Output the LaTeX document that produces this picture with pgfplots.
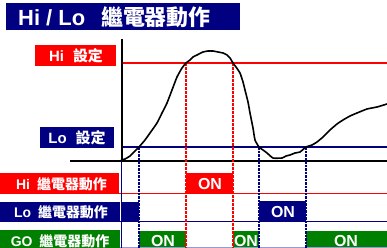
\documentclass[border=0pt]{standalone}
\usepackage{fontspec}
\setmainfont{Liberation Sans}
\newfontfamily\cjk{Noto Sans CJK TC}
\usepackage{pgfplots}
\pgfplotsset{compat=1.18}
\definecolor{hired}{RGB}{255,0,0}
\definecolor{navy}{RGB}{0,0,128}
\definecolor{gogreen}{RGB}{0,128,0}
\definecolor{lav}{RGB}{150,150,225}
\tikzset{lbl/.style={text=white, inner sep=0pt},
  on/.style={text=white, inner sep=0pt, font=\fontsize{16}{16}\selectfont\bfseries},
  bot/.style={anchor=base, text depth=0pt}}
\begin{document}
\begin{tikzpicture}
\begin{axis}[
  scale only axis, width=387bp, height=248bp,
  xmin=0, xmax=387, ymin=0, ymax=248, y dir=reverse,
  hide axis, clip=false,
]
\addplot[draw=none] coordinates {(0,0) (387,248)};
% title bar
\addplot[fill=navy, draw=none] coordinates {(6,3) (240,3) (240,30) (6,30)} -- cycle;
\node[lbl, anchor=west, font=\fontsize{22}{22}\selectfont\bfseries] at (axis cs:18,17) {Hi / Lo\hspace{16bp}{\cjk 繼電器動作}};
% label boxes
\addplot[fill=hired, draw=none] coordinates {(35,45) (116,45) (116,66) (35,66)} -- cycle;
\node[lbl, font=\fontsize{15}{15}\selectfont\bfseries] at (axis cs:76,56) {Hi\hspace{9bp}{\cjk 設定}};
\addplot[fill=navy, draw=none] coordinates {(40,127) (114,127) (114,148) (40,148)} -- cycle;
\node[lbl, font=\fontsize{15}{15}\selectfont\bfseries] at (axis cs:77,138) {Lo\hspace{9bp}{\cjk 設定}};
% band label boxes
\addplot[fill=hired, draw=none] coordinates {(0,173) (119,173) (119,194) (0,194)} -- cycle;
\node[lbl, font=\fontsize{14}{14}\selectfont\bfseries] at (axis cs:61.5,184) {Hi\hspace{7bp}{\cjk 繼電器動作}};
\addplot[fill=navy, draw=none] coordinates {(0,202) (120,202) (120,222) (0,222)} -- cycle;
\node[lbl, font=\fontsize{14}{14}\selectfont\bfseries] at (axis cs:61,212.5) {Lo\hspace{7bp}{\cjk 繼電器動作}};
\addplot[fill=gogreen, draw=none] coordinates {(0,230) (120,230) (120,248) (0,248)} -- cycle;
\node[lbl, bot, font=\fontsize{14}{14}\selectfont\bfseries] at (axis cs:60,246.5) {GO\hspace{7bp}{\cjk 繼電器動作}};
% ON boxes
\addplot[fill=hired, draw=none] coordinates {(186,173) (233,173) (233,194) (186,194)} -- cycle;
\node[on] at (axis cs:210,184) {ON};
\addplot[fill=navy, draw=none] coordinates {(121,202) (139,202) (139,222) (121,222)} -- cycle;
\addplot[fill=navy, draw=none] coordinates {(259,201) (306,201) (306,221) (259,221)} -- cycle;
\node[on] at (axis cs:283,212) {ON};
\addplot[fill=gogreen, draw=none] coordinates {(139,231) (186,231) (186,248) (139,248)} -- cycle;
\node[on, bot] at (axis cs:163,246) {ON};
\addplot[fill=gogreen, draw=none] coordinates {(233,231) (259,231) (259,248) (233,248)} -- cycle;
\node[on, bot] at (axis cs:246,246) {ON};
\addplot[fill=gogreen, draw=none] coordinates {(306,231) (387,231) (387,248) (306,248)} -- cycle;
\node[on, bot] at (axis cs:346,246) {ON};
% band lines
\addplot[hired, line width=1.5bp] coordinates {(119,193.5) (387,193.5)};
\addplot[navy, line width=1.5bp] coordinates {(120,221.5) (387,221.5)};
\addplot[lav, line width=1.2bp] coordinates {(120,247.2) (387,247.2)};
% threshold lines
\addplot[hired, line width=1.5bp] coordinates {(121,63) (387,63)};
\addplot[navy, line width=1.5bp] coordinates {(121,147) (387,147)};
% axes
\addplot[black, line width=2bp] coordinates {(70,160.5) (387,160.5)};
\addplot[black, line width=2bp] coordinates {(121.7,39) (121.7,160.5)};
\addplot[navy, line width=1.5bp] coordinates {(121.7,160.5) (121.7,248)};
% switching lines
\addplot[navy, line width=2.5bp, dash pattern=on 2.5bp off 1bp] coordinates {(139,147) (139,248)};
\addplot[hired, line width=2.5bp, dash pattern=on 3bp off 1bp] coordinates {(186,63) (186,248)};
\addplot[hired, line width=2.5bp, dash pattern=on 3bp off 1bp] coordinates {(233,63) (233,248)};
\addplot[navy, line width=2.5bp, dash pattern=on 2.5bp off 1bp] coordinates {(259,147) (259,248)};
\addplot[navy, line width=2.5bp, dash pattern=on 2.5bp off 1bp] coordinates {(306,147) (306,248)};
% curve
\addplot[black, line width=1.6bp, smooth, tension=0.3] coordinates {
(121,160) (125,159) (130,156) (135,151) (139,147) (145,140) (150,133) (157,123)
(162,113) (167,103) (172,90) (177,77) (182,68) (186,63) (190,60) (193,57)
(197,55) (203,52) (208,51) (213,51) (218,52) (223,53) (227,55) (230,58)
(233,63) (236,67) (240,73) (243,82) (245,90) (248,102) (250,113) (253,128)
(255,140) (259,147) (263,150) (267,153) (273,158) (282,158) (286,156) (290,155)
(295,153) (300,152) (306,147) (312,145) (317,142) (323,137) (330,130) (337,124)
(343,120) (350,116) (357,113) (367,109) (377,107) (387,104)};
\end{axis}
\pgfresetboundingbox
\path (current axis.south west) rectangle (current axis.north east);
\end{tikzpicture}
\end{document}
